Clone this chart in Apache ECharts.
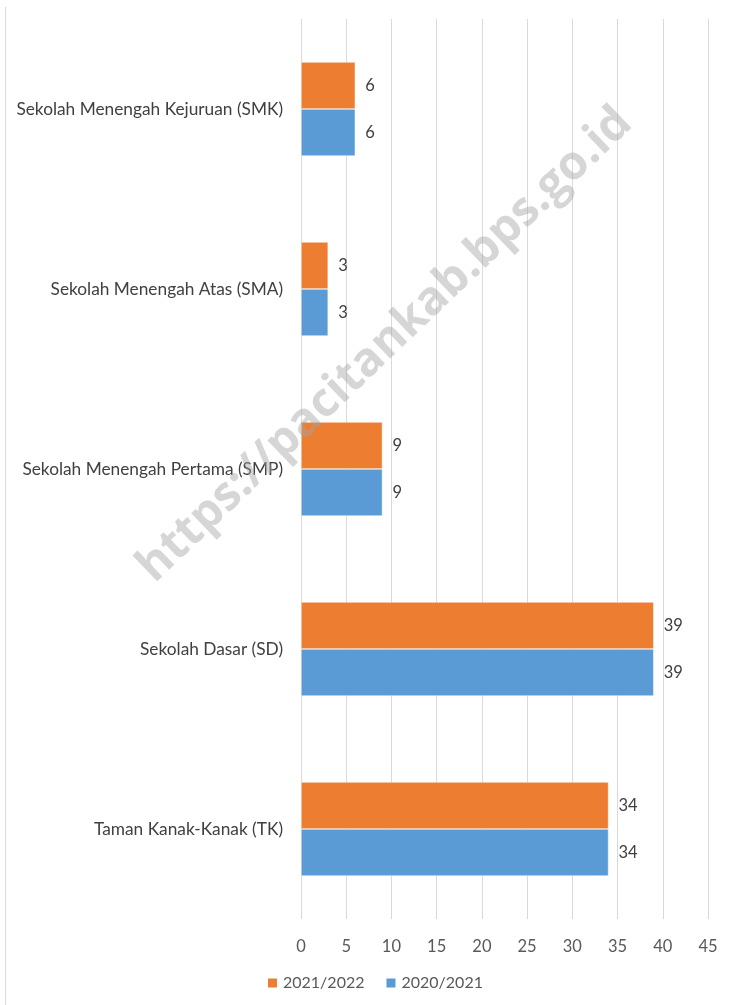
<!DOCTYPE html>
<html><head><meta charset="utf-8">
<script src="https://cdn.jsdelivr.net/npm/echarts@6/dist/echarts.min.js"></script>
<style>html,body{margin:0;padding:0;background:#fff}#c{width:729px;height:1005px}</style>
</head><body><div id="c"></div>
<script>
const categories = ['Taman Kanak-Kanak (TK)', 'Sekolah Dasar (SD)', 'Sekolah Menengah Pertama (SMP)', 'Sekolah Menengah Atas (SMA)', 'Sekolah Menengah Kejuruan (SMK)'];
const s2020 = [34, 39, 9, 3, 6];
const s2021 = [34, 39, 9, 3, 6];
const xTicks = {min: 0, max: 45, interval: 5};
const FONT = 'Lato, "Open Sans", sans-serif';
const chart = echarts.init(document.getElementById('c'), null, {renderer: 'canvas'});
chart.setOption({
  animation: false,
  grid: {left: 301, right: 21, top: 19, bottom: 86, containLabel: false},
  legend: {
    data: ['2021/2022', '2020/2021'], bottom: 9, left: 261, itemWidth: 11, itemHeight: 11, itemGap: 20,
    icon: 'rect', textStyle: {fontFamily: FONT, fontSize: 16, color: '#595959'}
  },
  xAxis: {
    type: 'value', min: xTicks.min, max: xTicks.max, interval: xTicks.interval,
    axisLine: {show: false}, axisTick: {show: false},
    splitLine: {lineStyle: {color: '#d9d9d9', width: 1}},
    axisLabel: {fontFamily: FONT, fontSize: 16.5, color: '#595959', margin: 19}
  },
  yAxis: {
    type: 'category', data: categories,
    axisLine: {show: false}, axisTick: {show: false},
    axisLabel: {fontFamily: FONT, fontSize: 17.3, color: '#404040', margin: 18}
  },
  series: [
    {name: '2021/2022', type: 'bar', data: s2021, barWidth: 47, barGap: '0%',
     itemStyle: {color: '#ED7D31', borderColor: '#fff', borderWidth: 0.5},
     label: {show: true, position: 'right', distance: 10, fontFamily: FONT, fontSize: 16.5, color: '#404040'}},
    {name: '2020/2021', type: 'bar', data: s2020, barWidth: 47, barGap: '0%',
     itemStyle: {color: '#5B9BD5', borderColor: '#fff', borderWidth: 0.5},
     label: {show: true, position: 'right', distance: 10, fontFamily: FONT, fontSize: 16.5, color: '#404040'}}
  ],
  graphic: [
    {type: 'line', shape: {x1: 5.5, y1: 7, x2: 5.5, y2: 1005}, style: {stroke: '#d9d9d9', lineWidth: 1}},
    {type: 'text', x: 385, y: 345, rotation: Math.PI * 43.7 / 180, z: 100,
     style: {text: 'https://pacitankab.bps.go.id', fontFamily: '"Open Sans", sans-serif', fontWeight: 'bold', fontSize: 47,
             fill: 'rgba(165,165,165,0.45)', align: 'center', verticalAlign: 'middle'}}
  ]
});
</script></body></html>
